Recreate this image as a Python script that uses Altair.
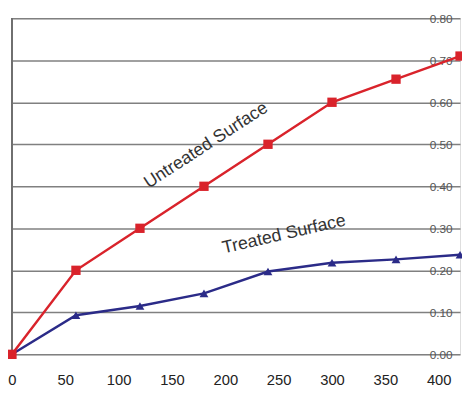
import altair as alt
import pandas as pd

time_x = [0, 60, 120, 180, 240, 300, 360, 420]
untreated = [0.00, 0.20, 0.30, 0.40, 0.50, 0.60, 0.655, 0.71]
treated = [0.00, 0.093, 0.115, 0.145, 0.197, 0.218, 0.226, 0.237]

x_ticks = [0, 50, 100, 150, 200, 250, 300, 350, 400]
y_ticks = [0.0, 0.1, 0.2, 0.3, 0.4, 0.5, 0.6, 0.7, 0.8]

labels = ["Untreated Surface", "Treated Surface"]
label_x = [182, 255]
label_y = [0.497, 0.285]
label_angle = [327, 347]

df_u = pd.DataFrame({"t": time_x, "v": untreated})
df_t = pd.DataFrame({"t": time_x, "v": treated})

xs = alt.Scale(domain=[0, 420], nice=False, zero=False)
ys = alt.Scale(domain=[0, 0.8], nice=False)

xax = alt.Axis(values=x_ticks, grid=False, ticks=False, domain=False, title=None,
               labelFontSize=15, labelColor="#222", labelFont="Liberation Sans",
               labelPadding=19, labelFlush=False)
yax = alt.Axis(orient="right", values=y_ticks, format=".2f", title=None, grid=True,
               gridColor="#808080", gridWidth=1.5, ticks=False, domain=False,
               labelAlign="right", labelPadding=-8, labelFontSize=12,
               labelColor="#555", labelFont="Liberation Sans", labelFlush=False)

base_u = alt.Chart(df_u).encode(x=alt.X("t:Q", scale=xs, axis=xax),
                                y=alt.Y("v:Q", scale=ys, axis=yax))
line_u = base_u.mark_line(color="#d9232b", strokeWidth=2.5)
pts_u = base_u.mark_point(shape="square", filled=True, size=90, color="#d9232b", opacity=1)

base_t = alt.Chart(df_t).encode(x=alt.X("t:Q", scale=xs), y=alt.Y("v:Q", scale=ys))
line_t = base_t.mark_line(color="#2b2b88", strokeWidth=2.5)
pts_t = base_t.mark_point(shape="triangle-up", filled=True, size=80, color="#2b2b88", opacity=1)

left_rule = alt.Chart(df_u).mark_rule(color="#707070", strokeWidth=1.5).encode(
    x=alt.value(0), y=alt.value(0), y2=alt.value(342))

texts = []
for i in range(len(labels)):
    d = pd.DataFrame({"t": [label_x[i]], "v": [label_y[i]], "text": [labels[i]]})
    texts.append(
        alt.Chart(d).mark_text(fontSize=18, font="Liberation Sans", color="#333",
                               align="center", baseline="middle",
                               angle=label_angle[i]).encode(
            x=alt.X("t:Q", scale=xs), y=alt.Y("v:Q", scale=ys), text="text:N")
    )

chart = alt.layer(left_rule, line_u, line_t, pts_t, pts_u, *texts).properties(
    width=456, height=342,
    autosize=alt.AutoSizeParams(type="none"),
    padding={"left": 4, "top": 7, "right": 2, "bottom": 40},
).configure_view(stroke="#707070", strokeWidth=1.5).configure(background="white")

chart.save("out.html", embed_options={"renderer": "svg", "actions": False})
